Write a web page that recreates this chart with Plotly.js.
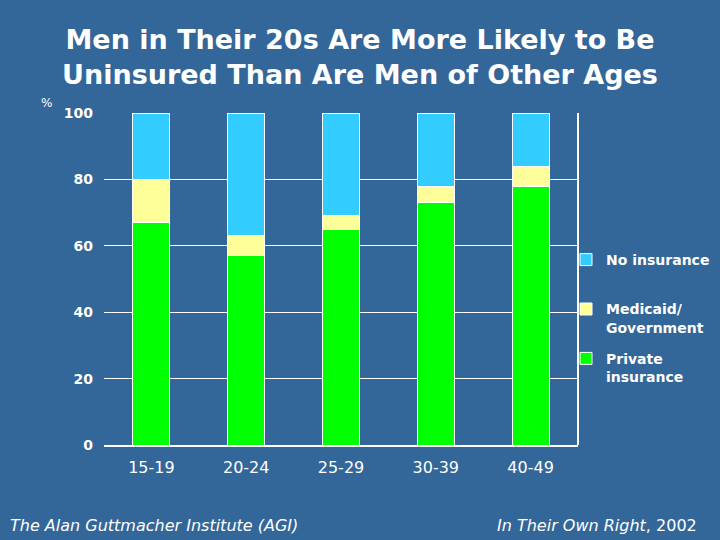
<!DOCTYPE html>
<html>
<head>
<meta charset="utf-8">
<script src="https://cdn.plot.ly/plotly-3.0.1.min.js"></script>
<style>
  html, body { margin: 0; padding: 0; background: #336699; }
  #chart { width: 720px; height: 540px; }
</style>
</head>
<body>
<div id="chart"></div>
<script>
// Insurance coverage of men by age group, percent
const ageGroups = ["15-19", "20-24", "25-29", "30-39", "40-49"];
const privateIns = [67, 57, 65, 73, 78];
const medicaidGov = [13, 6, 4, 5, 6];
const noInsurance = [20, 37, 31, 22, 16];
const yTicks = [0, 20, 40, 60, 80, 100];

const bg = "#336699";
const fontFace = "DejaVu Sans, Verdana, sans-serif";

function stackTrace(name, values, color, rank) {
  return {
    type: "bar",
    name: name,
    x: ageGroups,
    y: values,
    legendgroup: "g" + rank,
    legendrank: rank,
    marker: { color: color, line: { color: "#ffffff", width: 1 } },
    hoverinfo: "x+y+name"
  };
}

const traces = [
  stackTrace("<b>Private</b><br><b>insurance</b>", privateIns, "#00ff00", 3),
  stackTrace("<b>Medicaid/</b><br><b>Government</b>", medicaidGov, "#ffff99", 2),
  stackTrace("<b>No insurance</b><br> ", noInsurance, "#33ccff", 1)
];

const layout = {
  width: 720,
  height: 540,
  paper_bgcolor: bg,
  plot_bgcolor: bg,
  barmode: "stack",
  bargap: 0.61,
  margin: { l: 104, r: 142, t: 113, b: 95, autoexpand: false },
  title: {
    text: "<b>Men in Their 20s Are More Likely to Be</b><br><b>Uninsured Than Are Men of Other Ages</b>",
    font: { family: fontFace, size: 27, color: "#ffffff" },
    x: 0.5, xanchor: "center",
    y: 1 - 49 / 540, yanchor: "middle", yref: "container"
  },
  xaxis: {
    type: "category",
    showgrid: false,
    showline: true,
    linecolor: "#ffffff",
    linewidth: 2,
    ticks: "",
    tickfont: { family: fontFace, size: 16, color: "#ffffff" },
    ticklabelstandoff: 7,
    fixedrange: true
  },
  yaxis: {
    range: [0, 100],
    tickvals: yTicks,
    ticktext: yTicks.map(v => "<b>" + v + "</b>"),
    showgrid: true,
    gridcolor: "#ffffff",
    gridwidth: 1,
    zeroline: false,
    showline: false,
    ticks: "",
    tickfont: { family: fontFace, size: 14, color: "#ffffff" },
    ticklabelstandoff: 10,
    fixedrange: true
  },
  showlegend: true,
  legend: {
    xref: "container", yref: "container",
    x: 566 / 720, xanchor: "left",
    y: 1 - 244 / 540, yanchor: "top",
    traceorder: "grouped",
    tracegroupgap: 10,
    valign: "top",
    bgcolor: "rgba(0,0,0,0)",
    font: { family: fontFace, size: 14, color: "#ffffff" },
    itemwidth: 30
  },
  shapes: [
    // right border of the plotting frame
    { type: "line", xref: "paper", yref: "paper", x0: 1, x1: 1, y0: 0, y1: 1,
      line: { color: "#ffffff", width: 2 } }
  ],
  annotations: [
    { text: "%", xref: "paper", yref: "paper", x: -0.122, y: 1.03,
      xanchor: "center", yanchor: "middle", showarrow: false,
      font: { family: fontFace, size: 12, color: "#ffffff" } },
    { text: "<i>The Alan Guttmacher Institute (AGI)</i>", xref: "paper", yref: "paper",
      x: -0.2025, y: -0.241, xanchor: "left", yanchor: "middle", showarrow: false,
      font: { family: fontFace, size: 16, color: "#ffffff" } },
    { text: "<i>In Their Own Right</i>, 2002", xref: "paper", yref: "paper",
      x: 1.255, y: -0.241, xanchor: "right", yanchor: "middle", showarrow: false,
      font: { family: fontFace, size: 16, color: "#ffffff" } }
  ]
};

Plotly.newPlot("chart", traces, layout, { displayModeBar: false, staticPlot: true });
</script>
</body>
</html>
